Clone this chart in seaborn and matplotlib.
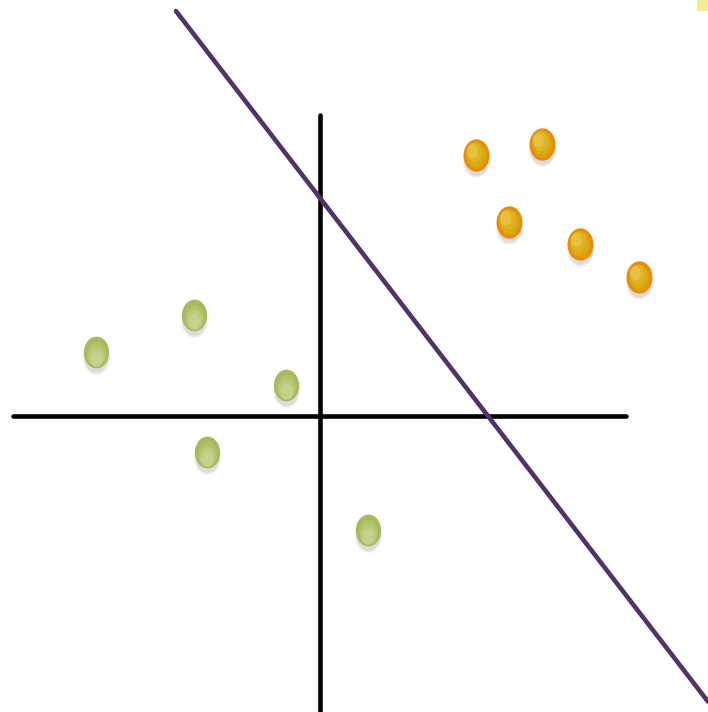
import numpy as np
import pandas as pd
import matplotlib
matplotlib.use("Agg")
import matplotlib.pyplot as plt
import seaborn as sns
from matplotlib.path import Path
from matplotlib.patches import Rectangle

# Two classes of points in the plane
orange_x = [1.56, 2.22, 1.89, 2.60, 3.19]
orange_y = [2.61, 2.72, 1.94, 1.72, 1.39]
green_x = [-2.24, -1.26, -0.34, -1.13, 0.48]
green_y = [0.64, 1.01, 0.31, -0.36, -1.14]

# Separating line y = intercept + slope * x
intercept = 2.18
slope = -1.298
line_x = [-1.44, 3.88]

sns.set_theme(style="white")

fig = plt.figure(figsize=(7.08, 7.12), dpi=100)
ax = fig.add_axes([0, 0, 1, 1])
ax.set_xlim(-3.20, 3.88)
ax.set_ylim(-2.96, 4.16)
ax.axis("off")

# Coordinate axes
sns.lineplot(x=[-3.07, 3.06], y=[0, 0], color="black", linewidth=3.3, ax=ax)
sns.lineplot(x=[0, 0], y=[-2.96, 3.01], color="black", linewidth=3.3, ax=ax,
             sort=False, estimator=None)

# Separator
sep = pd.DataFrame({"x": line_x, "y": [intercept + slope * v for v in line_x]})
sns.lineplot(data=sep, x="x", y="y", color="#4f3468", linewidth=3.3, ax=ax)

# Oval marker
t = np.linspace(0, 2 * np.pi, 60)
oval = Path(np.column_stack([0.39 * np.cos(t), 0.5 * np.sin(t)]), closed=True)

pts = pd.DataFrame({
    "x": orange_x + green_x,
    "y": orange_y + green_y,
    "cls": ["a"] * len(orange_x) + ["b"] * len(green_x),
})
oa = pts[pts.cls == "a"]
gb = pts[pts.cls == "b"]

# Soft drop shadow
for dy, s, a in [(-0.05, 640, 0.05), (-0.05, 560, 0.07), (-0.045, 490, 0.09)]:
    for d in (oa, gb):
        sns.scatterplot(x=d.x, y=d.y + dy, marker=oval, s=s, color="#555555",
                        alpha=a, linewidth=0, ax=ax, legend=False)

# Main bodies
sns.scatterplot(x=oa.x, y=oa.y, marker=oval, s=440, color="#d5a508",
                edgecolor="#ef8a08", linewidth=2.3, ax=ax, legend=False)
sns.scatterplot(x=gb.x, y=gb.y, marker=oval, s=450, color="#a6bb5a",
                edgecolor="#a7b95c", linewidth=1.6, ax=ax, legend=False)

# Gradient highlights
for k, (s, c) in enumerate([(300, "#d9ab10"), (200, "#dfb422"), (100, "#e6c040")]):
    sns.scatterplot(x=oa.x - 0.012 * (k + 1), y=oa.y + 0.015 * (k + 1), marker=oval,
                    s=s, color=c, linewidth=0, ax=ax, legend=False)
for k, (s, c) in enumerate([(320, "#afc268"), (220, "#b9ca7a"), (120, "#c3d38c")]):
    sns.scatterplot(x=gb.x, y=gb.y - 0.02 * (k + 1), marker=oval,
                    s=s, color=c, linewidth=0, ax=ax, legend=False)

# Corner tab
fig.patches.append(Rectangle((697 / 708, 1 - 10 / 712), 11 / 708, 10 / 712,
                             transform=fig.transFigure, color="#f6ec98", zorder=5))

fig.savefig("out.png", dpi=100)
